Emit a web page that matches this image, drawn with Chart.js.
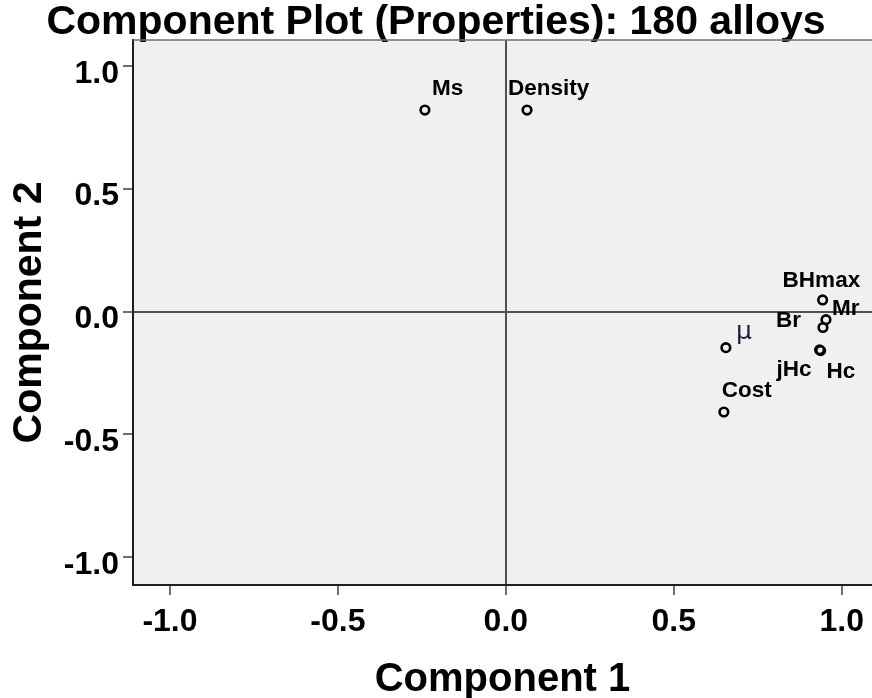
<!DOCTYPE html>
<html>
<head>
<meta charset="utf-8">
<script src="https://cdn.jsdelivr.net/npm/chart.js@4/dist/chart.umd.min.js"></script>
<style>
  html, body { margin: 0; padding: 0; background: #ffffff; overflow: hidden; }
  #wrap { width: 872px; height: 698px; }
</style>
</head>
<body>
<div id="wrap"><canvas id="c" width="872" height="698"></canvas></div>
<script>
// ---- data (component loadings) ----
const variableNames = ["Ms", "Density", "BHmax", "Mr", "Br", "Hc", "jHc", "\u03bc", "Cost"];
const component1 = [-0.241, 0.063, 0.943, 0.953, 0.944, 0.937, 0.934, 0.655, 0.649];
const component2 = [0.820, 0.820, 0.047, -0.033, -0.065, -0.159, -0.156, -0.147, -0.409];
const xTickValues = [-1.0, -0.5, 0.0, 0.5, 1.0];
const yTickValues = [-1.0, -0.5, 0.0, 0.5, 1.0];

const FONT = "'Liberation Sans', Arial, Helvetica, sans-serif";

// label placement (pixel offsets from the marker: left edge, vertical centre)
const labelOffsets = {
  "Ms": [7, -21], "Density": [-19, -21], "BHmax": [-40, -19], "Mr": [6, -11],
  "Br": [-47, -7], "Hc": [6, 21], "jHc": [-43, 20], "\u03bc": [10, -15], "Cost": [-2, -21]
};

const points = component1.map((x, i) => ({ x: x, y: component2[i] }));

const bgPlugin = {
  id: 'bgPlugin',
  beforeDraw(chart) {
    const { ctx, chartArea: a } = chart;
    ctx.save();
    ctx.fillStyle = '#f0f0f0';
    ctx.fillRect(a.left, a.top, a.right - a.left, a.bottom - a.top);
    ctx.restore();
  },
  afterDraw(chart) {
    const { ctx, chartArea: a } = chart;
    ctx.save();
    ctx.strokeStyle = '#6e6e6e';
    ctx.lineWidth = 1.5;
    ctx.beginPath();
    ctx.moveTo(a.left, a.top);
    ctx.lineTo(a.right, a.top);
    ctx.stroke();
    ctx.restore();
  }
};

const labelPlugin = {
  id: 'labelPlugin',
  afterDatasetsDraw(chart) {
    const { ctx } = chart;
    const meta = chart.getDatasetMeta(0);
    ctx.save();
    ctx.textAlign = 'left';
    ctx.textBaseline = 'middle';
    meta.data.forEach((el, i) => {
      const name = variableNames[i];
      const off = labelOffsets[name] || [6, -12];
      if (name === '\u03bc') {
        ctx.font = "normal 25px 'DejaVu Sans', sans-serif";
        ctx.fillStyle = '#1c1c3a';
      } else {
        ctx.font = "bold 22.5px " + FONT;
        ctx.fillStyle = '#000000';
      }
      ctx.fillText(name, el.x + off[0], el.y + off[1]);
    });
    ctx.restore();
  }
};

const zeroLine = (ctx) => (ctx.tick && Math.abs(ctx.tick.value) < 1e-9) ? '#505050' : 'rgba(0,0,0,0)';

new Chart(document.getElementById('c'), {
  type: 'scatter',
  data: {
    datasets: [{
      data: points,
      pointRadius: 4.3,
      pointHoverRadius: 4.3,
      pointBorderWidth: 2.6,
      pointBorderColor: '#000000',
      pointBackgroundColor: 'rgba(0,0,0,0)'
    }]
  },
  options: {
    responsive: false,
    animation: false,
    events: [],
    layout: { padding: 0, autoPadding: false },
    plugins: {
      legend: { display: false },
      tooltip: { enabled: false },
      title: {
        display: true,
        text: 'Component Plot (Properties): 180 alloys',
        color: '#000000',
        font: { family: FONT, size: 41, weight: 'bold', lineHeight: 1 },
        padding: { top: 2, bottom: -3 }
      }
    },
    scales: {
      x: {
        type: 'linear',
        min: -1.110,
        max: 1.090,
        afterBuildTicks: (s) => { s.ticks = xTickValues.map(v => ({ value: v })); },
        afterFit: (s) => { s.height = 113; s.paddingLeft = 0; s.paddingRight = 0; },
        border: { display: true, color: '#1e1e1e', width: 2 },
        grid: {
          drawOnChartArea: true,
          drawTicks: true,
          tickLength: 10,
          color: zeroLine,
          lineWidth: 2,
          tickColor: '#6e6e6e',
          tickWidth: 2
        },
        ticks: {
          color: '#000000',
          padding: 8,
          font: { family: FONT, size: 32, weight: 'bold' },
          callback: (v) => Number(v).toFixed(1)
        },
        title: {
          display: true,
          text: 'Component 1',
          color: '#000000',
          font: { family: FONT, size: 40, weight: 'bold', lineHeight: 1 },
          padding: { top: 0, bottom: -2 }
        }
      },
      y: {
        type: 'linear',
        min: -1.113,
        max: 1.105,
        afterBuildTicks: (s) => { s.ticks = yTickValues.map(v => ({ value: v })); },
        afterFit: (s) => { s.width = 133; s.paddingTop = 0; s.paddingBottom = 0; },
        border: { display: true, color: '#1e1e1e', width: 2 },
        grid: {
          drawOnChartArea: true,
          drawTicks: true,
          tickLength: 10,
          color: zeroLine,
          lineWidth: 2,
          tickColor: '#6e6e6e',
          tickWidth: 2
        },
        ticks: {
          color: '#000000',
          padding: 4,
          labelOffset: 8,
          font: { family: FONT, size: 32, weight: 'bold' },
          callback: (v) => Number(v).toFixed(1)
        },
        title: {
          display: true,
          text: 'Component 2',
          color: '#000000',
          font: { family: FONT, size: 41, weight: 'bold', lineHeight: 1 },
          padding: { top: 9, bottom: 0 }
        }
      }
    }
  },
  plugins: [bgPlugin, labelPlugin]
});
</script>
</body>
</html>
